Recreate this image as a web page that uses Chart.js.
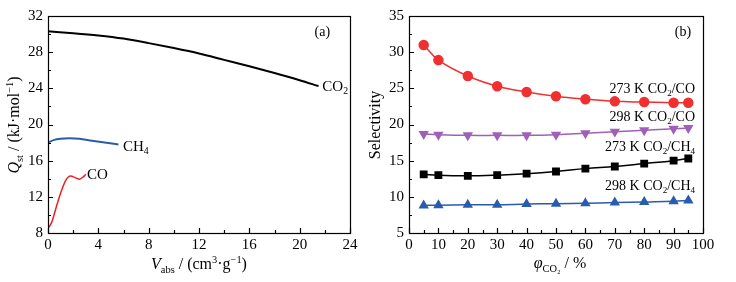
<!DOCTYPE html>
<html>
<head>
<meta charset="utf-8">
<script src="https://cdn.jsdelivr.net/npm/chart.js@4"></script>
<style>
  body { margin: 0; background: #fff; }
  .panel { position: absolute; top: 0; width: 368px; height: 282px; }
</style>
</head>
<body>
<div class="panel" style="left:0"><canvas id="chartA" width="368" height="282"></canvas></div>
<div class="panel" style="left:368px"><canvas id="chartB" width="368" height="282"></canvas></div>
<script>
// (a) isosteric heat curves
const co2X = [0, 2, 4, 6, 8, 10, 12, 14, 16, 18, 20, 21.5];
const co2Y = [30.3, 30.1, 29.85, 29.5, 29.0, 28.45, 27.85, 27.15, 26.45, 25.7, 24.9, 24.25];
const ch4X = [0, 0.5, 1, 1.7, 2.5, 3.5, 4.5, 5.6];
const ch4Y = [18.0, 18.3, 18.42, 18.47, 18.42, 18.2, 18.0, 17.8];
const coX = [0, 0.3, 0.6, 1.0, 1.4, 1.8, 2.2, 2.5, 2.8, 3.0];
const coY = [8.5, 9.2, 10.6, 12.4, 13.8, 14.3, 14.1, 13.95, 14.2, 14.5];

// (b) selectivity vs CO2 fraction
const phi = [5, 10, 20, 30, 40, 50, 60, 70, 80, 90, 95];
const sel273CO = [31.0, 28.9, 26.7, 25.3, 24.5, 23.9, 23.5, 23.2, 23.1, 23.0, 23.0];
const sel298CO = [18.7, 18.6, 18.5, 18.5, 18.5, 18.6, 18.8, 19.0, 19.2, 19.4, 19.5];
const sel273CH4 = [13.1, 13.0, 12.9, 13.0, 13.2, 13.5, 13.9, 14.2, 14.6, 15.0, 15.3];
const sel298CH4 = [8.8, 8.85, 8.9, 8.9, 9.0, 9.05, 9.1, 9.2, 9.3, 9.4, 9.5];

const FONT = "'Liberation Serif', 'DejaVu Serif', serif";

const pts = (xs, ys) => xs.map((x, i) => ({ x: x, y: ys[i] }));

// draws text made of parts: [text, kind] kind = '', 'i', 'sub', 'sup'
function richText(ctx, parts, x, y, align, size) {
  const widths = parts.map(([t, k]) => {
    const s = (k === 'sub' || k === 'sup') ? size * 0.65 : size;
    ctx.font = (k === 'i' ? 'italic ' : '') + s + 'px ' + FONT;
    return ctx.measureText(t).width;
  });
  const total = widths.reduce((a, b) => a + b, 0);
  let cx = align === 'center' ? x - total / 2 : align === 'right' ? x - total : x;
  ctx.textAlign = 'left';
  ctx.textBaseline = 'middle';
  ctx.fillStyle = '#000';
  parts.forEach(([t, k], i) => {
    const s = (k === 'sub' || k === 'sup') ? size * 0.65 : size;
    ctx.font = (k === 'i' ? 'italic ' : '') + s + 'px ' + FONT;
    const dy = k === 'sub' ? size * 0.3 : k === 'sup' ? -size * 0.3 : 0;
    ctx.fillText(t, cx, y + dy);
    cx += widths[i];
  });
}

const frameTicks = {
  id: 'frameTicks',
  afterDraw(chart, args, opts) {
    const { ctx, chartArea: a, scales: { x, y } } = chart;
    ctx.save();
    ctx.strokeStyle = '#000';
    ctx.lineWidth = 1.2;
    ctx.strokeRect(a.left + 0.5, a.top + 0.5, a.right - a.left, a.bottom - a.top);
    ctx.beginPath();
    for (let v = x.min; v <= x.max + 1e-9; v += opts.xMinor) {
      const px = Math.round(x.getPixelForValue(v)) + 0.5;
      const r = v / opts.xMajor;
      const len = Math.abs(r - Math.round(r)) < 1e-6 ? 5 : 3;
      ctx.moveTo(px, a.bottom);
      ctx.lineTo(px, a.bottom - len);
    }
    for (let v = y.min; v <= y.max + 1e-9; v += opts.yMinor) {
      const py = Math.round(y.getPixelForValue(v)) + 0.5;
      const r = v / opts.yMajor;
      const len = Math.abs(r - Math.round(r)) < 1e-6 ? 5 : 3;
      ctx.moveTo(a.left, py);
      ctx.lineTo(a.left + len, py);
    }
    ctx.stroke();
    // annotations in data coordinates
    (opts.notes || []).forEach(n => {
      richText(ctx, n.parts, x.getPixelForValue(n.x), y.getPixelForValue(n.y), n.align, n.size || 14);
    });
    // axis titles
    const t = opts.titles;
    richText(ctx, t.x.parts, t.x.px, t.x.py, 'center', 16);
    ctx.translate(t.y.px, t.y.py);
    ctx.rotate(-Math.PI / 2);
    richText(ctx, t.y.parts, 0, 0, 'center', 16);
    ctx.restore();
  }
};

function axes(xMin, xMax, xStep, yMin, yMax, yStep, yWidth) {
  const tick = { color: '#000', font: { family: FONT, size: 15 } };
  const grid = { display: false, drawTicks: false, tickLength: 0 };
  return {
    x: {
      type: 'linear', min: xMin, max: xMax,
      grid: grid, border: { display: false },
      ticks: Object.assign({ stepSize: xStep, padding: 3 }, tick),
      afterFit(s) { s.height = 49; }
    },
    y: {
      type: 'linear', min: yMin, max: yMax,
      grid: grid, border: { display: false },
      ticks: Object.assign({ stepSize: yStep, padding: 5 }, tick),
      afterFit(s) { s.width = yWidth; }
    }
  };
}

new Chart(document.getElementById('chartA'), {
  type: 'scatter',
  data: {
    datasets: [
      { data: pts(co2X, co2Y), borderColor: '#000', borderWidth: 2, showLine: true, pointRadius: 0, cubicInterpolationMode: 'monotone' },
      { data: pts(ch4X, ch4Y), borderColor: '#2a5cad', borderWidth: 2, showLine: true, pointRadius: 0, cubicInterpolationMode: 'monotone' },
      { data: pts(coX, coY), borderColor: '#f02020', borderWidth: 1.5, showLine: true, pointRadius: 0, cubicInterpolationMode: 'monotone' }
    ]
  },
  options: {
    responsive: false,
    animation: false,
    layout: { padding: { left: 0, right: 18, top: 16, bottom: 0 } },
    plugins: {
      legend: { display: false },
      tooltip: { enabled: false },
      frameTicks: {
        xMajor: 4, xMinor: 2, yMajor: 4, yMinor: 2,
        notes: [
          { parts: [['(a)', '']], x: 21.8, y: 30.2, align: 'center' },
          { parts: [['CO', ''], ['2', 'sub']], x: 21.8, y: 24.15, align: 'left', size: 15 },
          { parts: [['CH', ''], ['4', 'sub']], x: 5.96, y: 17.5, align: 'left', size: 15 },
          { parts: [['CO', '']], x: 3.1, y: 14.4, align: 'left', size: 15 }
        ],
        titles: {
          x: { parts: [['V', 'i'], ['abs', 'sub'], [' / (cm', ''], ['3', 'sup'], ['·g', ''], ['−1', 'sup'], [')', '']], px: 199, py: 265 },
          y: { parts: [['Q', 'i'], ['st', 'sub'], [' / (kJ·mol', ''], ['−1', 'sup'], [')', '']], px: 15, py: 125 }
        }
      }
    },
    scales: axes(0, 24, 4, 8, 32, 4, 48)
  },
  plugins: [frameTicks]
});

const mk = (ys, color, style, rot) => ({
  data: pts(phi, ys), borderColor: color, backgroundColor: color, borderWidth: 1.5,
  showLine: true, tension: 0.4, pointStyle: style, pointRotation: rot || 0, pointRadius: 4.5
});

new Chart(document.getElementById('chartB'), {
  type: 'scatter',
  data: {
    datasets: [
      mk(sel273CO, '#f03030', 'circle'),
      mk(sel298CO, '#a060b8', 'triangle', 180),
      mk(sel273CH4, '#000', 'rect'),
      mk(sel298CH4, '#2a5cad', 'triangle')
    ]
  },
  options: {
    responsive: false,
    animation: false,
    layout: { padding: { left: 0, right: 33, top: 16, bottom: 0 } },
    plugins: {
      legend: { display: false },
      tooltip: { enabled: false },
      frameTicks: {
        xMajor: 10, xMinor: 5, yMajor: 5, yMinor: 2.5,
        notes: [
          { parts: [['(b)', '']], x: 93.2, y: 32.8, align: 'center' },
          { parts: [['273 K CO', ''], ['2', 'sub'], ['/CO', '']], x: 97.3, y: 24.9, align: 'right' },
          { parts: [['298 K CO', ''], ['2', 'sub'], ['/CO', '']], x: 97.3, y: 21.0, align: 'right' },
          { parts: [['273 K CO', ''], ['2', 'sub'], ['/CH', ''], ['4', 'sub']], x: 97.3, y: 16.9, align: 'right' },
          { parts: [['298 K CO', ''], ['2', 'sub'], ['/CH', ''], ['4', 'sub']], x: 97.3, y: 11.5, align: 'right' }
        ],
        titles: {
          x: { parts: [['φ', 'i'], ['CO₂', 'sub'], [' / %', '']], px: 192, py: 264 },
          y: { parts: [['Selectivity', '']], px: 8, py: 125 }
        }
      }
    },
    scales: axes(0, 100, 10, 5, 35, 5, 41)
  },
  plugins: [frameTicks]
});
</script>
</body>
</html>
